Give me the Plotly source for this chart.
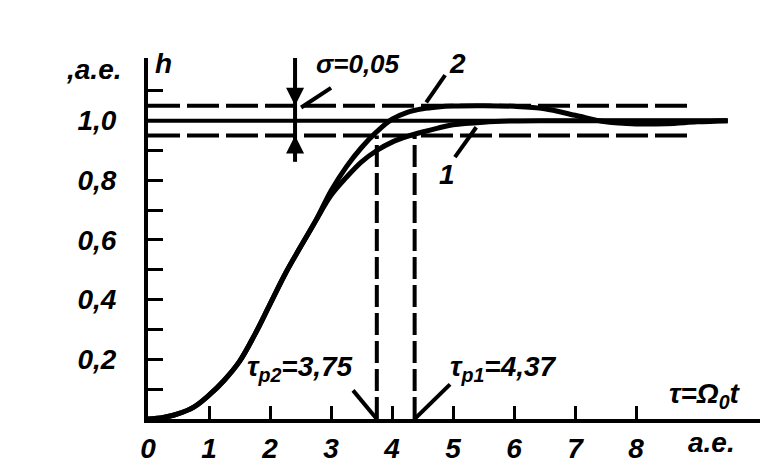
import plotly.graph_objects as go

# ---- data ----
t_vals = [0, 0.25, 0.5, 0.75, 1.0, 1.25, 1.5, 1.75, 2.0, 2.25, 2.5, 2.75, 3.0, 3.25,
          3.5, 3.75, 4.0, 4.25, 4.5, 4.75, 5.0, 5.5, 6.0, 6.5, 7.0, 7.5, 8.0, 8.5, 9.0, 9.5]
h_curve2 = [0, 0.005, 0.018, 0.04, 0.08, 0.13, 0.193, 0.283, 0.385, 0.487, 0.577, 0.665,
            0.765, 0.845, 0.91, 0.963, 1.005, 1.028, 1.04, 1.046, 1.049, 1.05, 1.048,
            1.04, 1.018, 0.996, 0.989, 0.99, 0.996, 1.0]
h_curve1 = [0, 0.005, 0.018, 0.04, 0.08, 0.13, 0.193, 0.283, 0.385, 0.487, 0.577, 0.665,
            0.75, 0.81, 0.862, 0.9, 0.928, 0.947, 0.962, 0.975, 0.986, 0.995, 0.999,
            1.0, 1.0, 1.0, 1.0, 1.0, 1.0, 1.0]

sigma = 0.05
h_steady = 1.0
band_end = 8.9
steady_end = 9.5
tau_p2 = 3.75
tau_p1 = 4.37

x_tickvals = [0, 1, 2, 3, 4, 5, 6, 7, 8]
x_ticktext = ["0", "1", "2", "3", "4", "5", "6", "7", "8"]
y_tickvals = [0.1, 0.2, 0.3, 0.4, 0.5, 0.6, 0.7, 0.8, 0.9, 1.0, 1.1]
y_ticktext = ["", "0,2", "", "0,4", "", "0,6", "", "0,8", "", "1,0", ""]

FONT = dict(family="Liberation Sans", size=28, color="black", weight="bold", style="italic")
BLACK = "black"

fig = go.Figure()
fig.add_trace(go.Scatter(x=t_vals, y=h_curve1, mode="lines", line=dict(color=BLACK, width=5, shape="spline"),
                         showlegend=False, hoverinfo="skip"))
fig.add_trace(go.Scatter(x=t_vals, y=h_curve2, mode="lines", line=dict(color=BLACK, width=5, shape="spline"),
                         showlegend=False, hoverinfo="skip"))

shapes = []
# tolerance band and steady value
for lvl in (h_steady + sigma, h_steady - sigma):
    shapes.append(dict(type="line", x0=0, x1=band_end, y0=lvl, y1=lvl, xref="x", yref="y",
                       line=dict(color=BLACK, width=4, dash="32px,7px")))
shapes.append(dict(type="line", x0=0, x1=steady_end, y0=h_steady, y1=h_steady, xref="x", yref="y",
                   line=dict(color=BLACK, width=4)))
# settling time verticals
for tp in (tau_p2, tau_p1):
    shapes.append(dict(type="line", x0=tp, x1=tp, y0=0, y1=h_steady - sigma, xref="x", yref="y",
                       line=dict(color=BLACK, width=4, dash="22px,6px")))
# leader lines
leaders = [
    ((3.36, 0.096), (tau_p2, 0.0)),
    ((4.95, 0.116), (tau_p1, 0.0)),
    ((4.87, 1.153), (4.56, 1.061)),
    ((5.03, 0.878), (5.38, 0.978)),
    ((3.0, 1.11), (2.51, 1.044)),
]
for (xa, ya), (xb, yb) in leaders:
    shapes.append(dict(type="line", x0=xa, y0=ya, x1=xb, y1=yb, xref="x", yref="y",
                       line=dict(color=BLACK, width=4)))
# sigma arrow stem
arrow_x = 2.41
shapes.append(dict(type="line", x0=arrow_x, x1=arrow_x, y0=0.862, y1=1.217, xref="x", yref="y",
                   line=dict(color=BLACK, width=4)))

annotations = []
def txt(x, y, s, **kw):
    d = dict(x=x, y=y, text=s, xref="x", yref="y", showarrow=False, font=FONT)
    d.update(kw)
    annotations.append(d)

txt(0.25, 1.19, "h")
txt(0, 1.17, ",a.e.", xanchor="right", xshift=-25)
txt(3.44, 1.19, "σ=0,05", font=dict(FONT, size=26))
txt(5.08, 1.19, "2")
txt(4.9, 0.82, "1")
txt(2.49, 0.17, "τ<sub>р2</sub>=3,75")
txt(5.82, 0.17, "τ<sub>р1</sub>=4,37")
txt(9.13, 0.08, "τ=Ω<sub>0</sub>t")
txt(9.23, 0, "a.e.", yshift=-23)
# arrowheads
for tip, tail in ((1.05, 1.15), (0.95, 0.87)):
    annotations.append(dict(x=arrow_x, y=tip, ax=arrow_x, ay=tail, xref="x", yref="y",
                            axref="x", ayref="y", showarrow=True, arrowhead=2, arrowsize=1.2,
                            arrowwidth=3, arrowcolor=BLACK, text=""))

fig.update_layout(
    width=781, height=468,
    margin=dict(l=140, r=29, t=50, b=53),
    paper_bgcolor="white", plot_bgcolor="white",
    shapes=shapes, annotations=annotations,
    xaxis=dict(range=[0, 10.03], showline=True, linewidth=4, linecolor=BLACK, ticks="inside",
               ticklen=13, tickwidth=3, tickcolor=BLACK, tickvals=x_tickvals, ticktext=x_ticktext,
               showgrid=False, zeroline=False, tickfont=FONT, ticklabelstandoff=1),
    yaxis=dict(range=[0, 1.21], showline=True, linewidth=4, linecolor=BLACK, ticks="inside",
               ticklen=15, tickwidth=3, tickcolor=BLACK, tickvals=y_tickvals, ticktext=y_ticktext,
               showgrid=False, zeroline=False, tickfont=FONT, ticklabelstandoff=22),
)
fig.write_html("out.html")
